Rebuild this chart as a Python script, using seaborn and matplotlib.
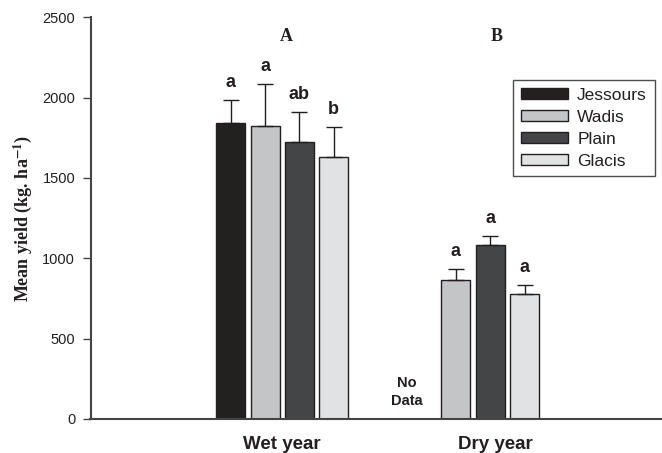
import numpy as np
import pandas as pd
import matplotlib
matplotlib.use("Agg")
import matplotlib.pyplot as plt
import seaborn as sns

# ---- data ----
categories = ["Wet year", "Dry year"]
sites = ["Jessours", "Wadis", "Plain", "Glacis"]
wet_means = [1840, 1822, 1723, 1633]
wet_err = [147, 265, 187, 187]
dry_means = [np.nan, 866, 1083, 775]
dry_err = [np.nan, 67, 58, 58]
wet_letters = ["a", "a", "ab", "b"]
dry_letters = ["", "a", "a", "a"]
panel_labels = ["A", "B"]
yticks = [0, 500, 1000, 1500, 2000, 2500]
colors = ["#231f20", "#c4c5c7", "#434547", "#e1e2e3"]

rows = []
for cat, means, errs, lets in [(categories[0], wet_means, wet_err, wet_letters),
                               (categories[1], dry_means, dry_err, dry_letters)]:
    for s, m, e, l in zip(sites, means, errs, lets):
        rows.append({"year": cat, "site": s, "yield": m, "err": e, "letter": l})
df = pd.DataFrame(rows)

sns.set_style("white")
plt.rcParams["font.family"] = ["Liberation Sans", "DejaVu Sans"]
plt.rcParams["mathtext.fontset"] = "stix"

fig = plt.figure(figsize=(6.62, 4.53), dpi=100)
ax = fig.add_axes([90.5 / 662, 1 - 419 / 453, (662 - 90.5) / 662, (419 - 17.3) / 453])

sns.barplot(data=df.dropna(subset=["yield"]), x="year", y="yield", hue="site",
            order=categories, hue_order=sites,
            palette=dict(zip(sites, colors)), width=0.72, gap=0.16,
            edgecolor="#231f20", linewidth=1.0, errorbar=None, ax=ax, zorder=2)

# error bars and significance letters
for j, cont in enumerate(ax.containers):
    for bar in cont:
        if bar is None or not hasattr(bar, "get_x"):
            continue
        xc = bar.get_x() + bar.get_width() / 2
        h = bar.get_height()
        if not np.isfinite(h):
            continue
        ci = int(round(xc))
        r = df[(df.year == categories[ci]) & (df.site == sites[j])].iloc[0]
        ax.errorbar([xc], [h], yerr=[[0], [r["err"]]], fmt="none",
                    ecolor="#231f20", elinewidth=1.0, capsize=5.5,
                    capthick=1.0, zorder=3)
        ax.annotate(r["letter"], (xc, h + r["err"]), xytext=(0, 12.5),
                    textcoords="offset points", ha="center", va="center",
                    fontsize=13, fontweight="bold", color="#231f20")

ax.text(0.655, 168, "No\nData", ha="center", va="center", fontsize=10.5,
        fontweight="bold", color="#231f20", linespacing=1.3)

for xp, lab in zip([0.02, 1.124], panel_labels):
    ax.text(xp, 2380, lab, ha="center", va="center", fontsize=13,
            fontweight="bold", family="Liberation Serif", color="#231f20")

ax.set_xlim(-1.005, 1.99)
ax.set_ylim(0, 2500)
ax.set_yticks(yticks)
ax.set_yticklabels([str(t) for t in yticks], fontsize=10.5, color="#231f20")
ax.set_xticks([0, 1.115])
ax.set_xticklabels(categories, fontsize=13.5, fontweight="bold", color="#231f20")
ax.tick_params(axis="x", length=0, pad=12)
ax.tick_params(axis="y", length=6, width=1, direction="out", color="#444444",
               pad=5, left=True)
ax.set_xlabel("")
ax.set_ylabel("Mean yield (kg. ha$^{\\mathbf{-1}}$)", fontsize=13,
              fontweight="bold", family="Liberation Serif", color="#231f20",
              labelpad=6)

for side in ["top", "right"]:
    ax.spines[side].set_visible(False)
for side in ["left", "bottom"]:
    ax.spines[side].set_color("#444444")
    ax.spines[side].set_linewidth(1.5)

leg = ax.legend(loc="upper left", bbox_to_anchor=((513 - 90.5) / 571.5, 1 - (80 - 17.3) / 401.7),
                frameon=True, fancybox=False, fontsize=12.5, handlelength=2.7,
                handleheight=0.6, handletextpad=0.55, labelspacing=0.4,
                borderpad=0.45, borderaxespad=0)
leg.get_frame().set_edgecolor("#231f20")
leg.get_frame().set_linewidth(1.0)
for t in leg.get_texts():
    t.set_color("#231f20")

fig.savefig("out.png", dpi=100)
